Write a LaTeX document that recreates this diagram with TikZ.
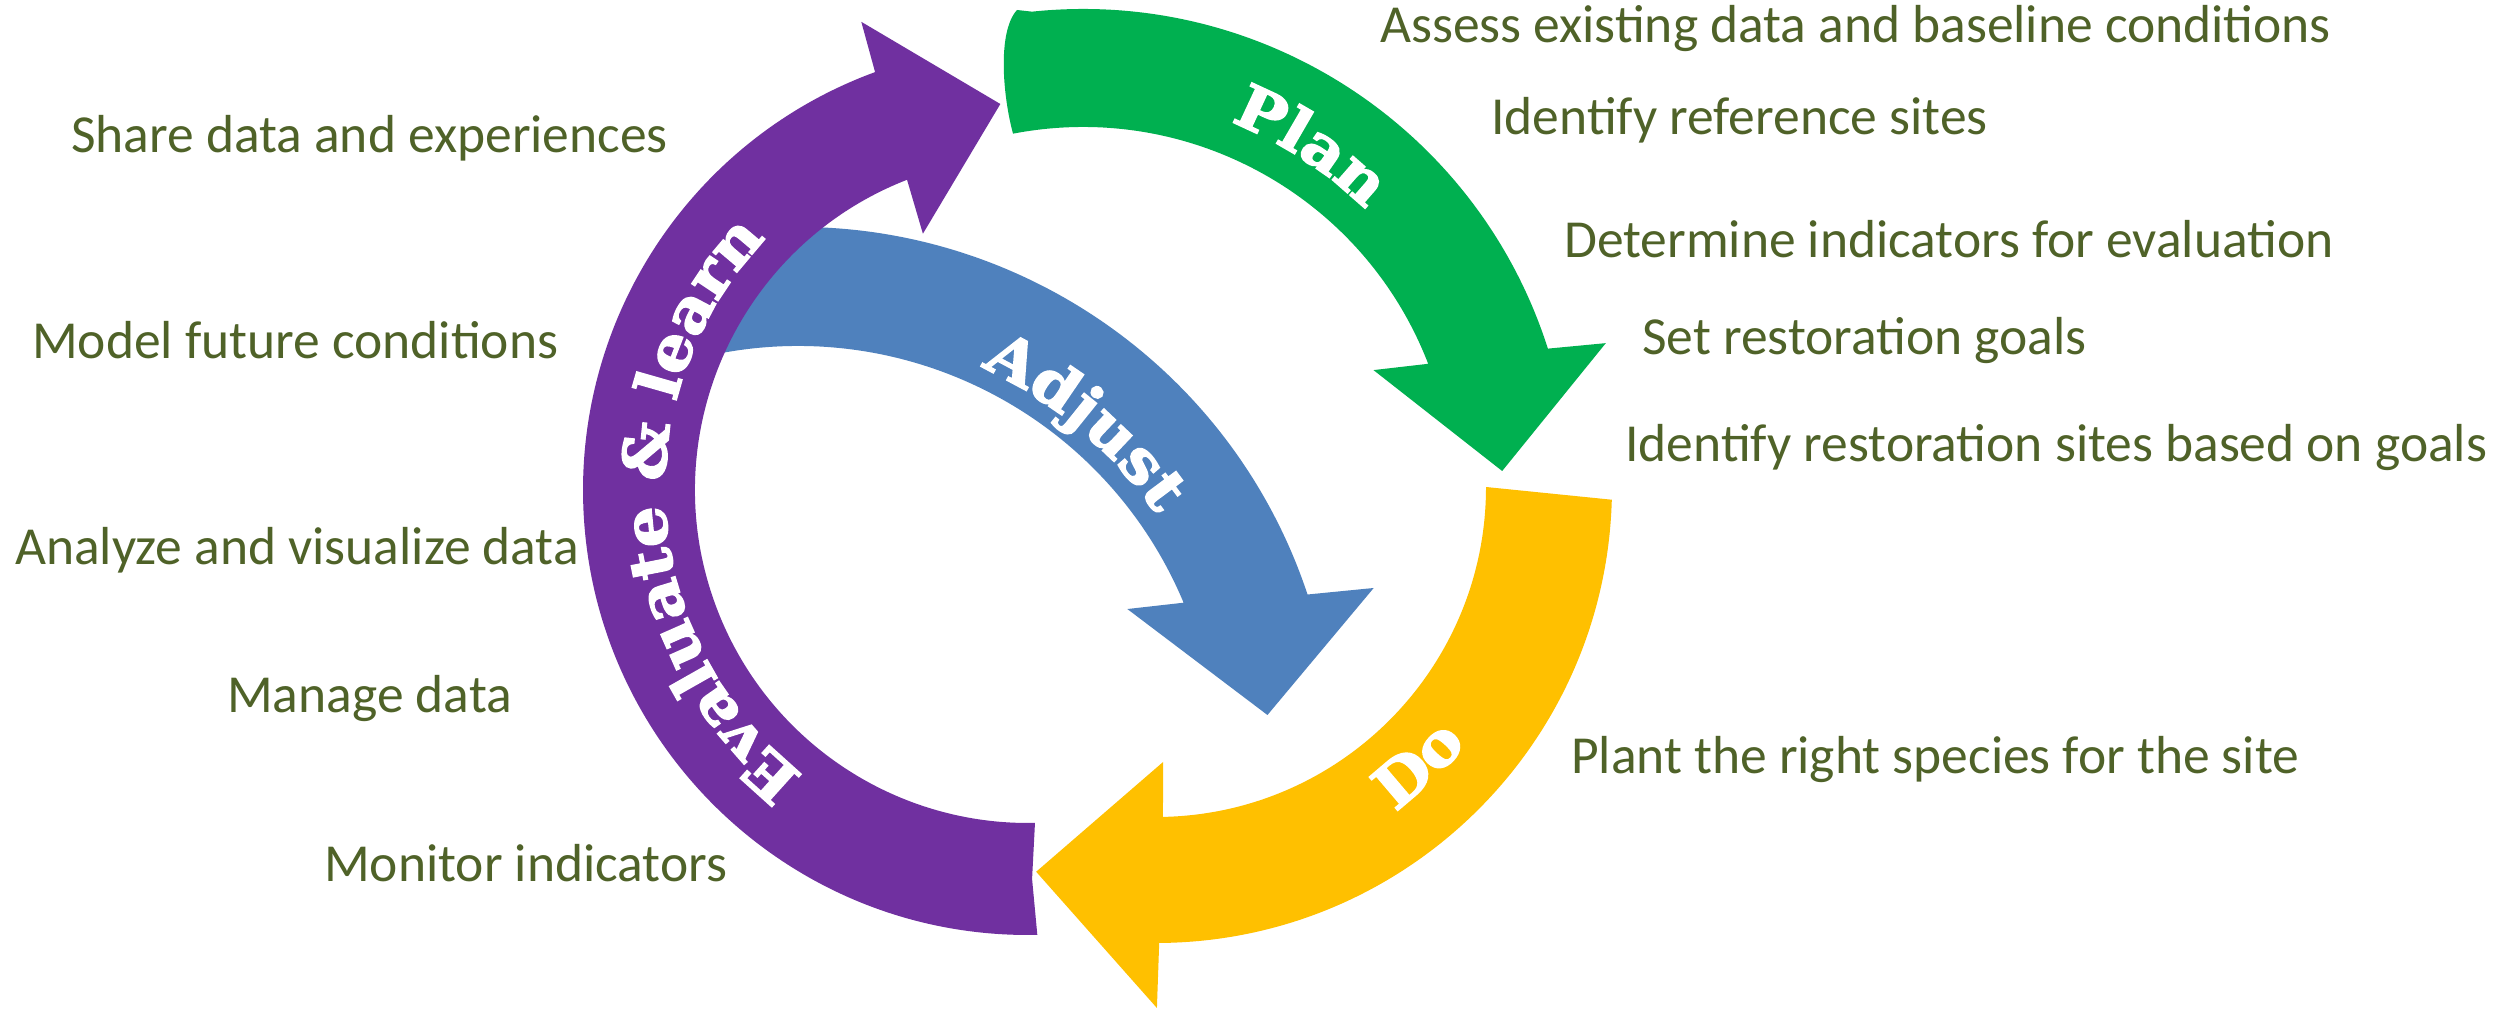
\documentclass[tikz,border=0pt]{standalone}
\usepackage{fontspec}
\setmainfont{Carlito}
\newfontfamily\lblfont{DejaVu Serif}[FakeStretch=1.08,FakeBold=2.5]
\usetikzlibrary{decorations.text}
\definecolor{cpurple}{HTML}{7030A0}
\definecolor{cgreen}{HTML}{00B050}
\definecolor{cblue}{HTML}{4F81BD}
\definecolor{cyellow}{HTML}{FFC000}
\definecolor{ctext}{HTML}{4F6228}
\begin{document}
\begin{tikzpicture}[x=1pt,y=1pt,
  item/.style={text=ctext,font=\fontsize{53.5}{60}\selectfont,inner sep=0pt,anchor=base west},
  lbl/.style={decorate,decoration={text along path,text align=center,text color=white,
     text={|\lblfont\bfseries\fontsize{60}{60}\selectfont|#1}}}
]
\useasboundingbox (0,0) rectangle (2499,1010);
\fill[white] (0,0) rectangle (2499,1010);

% Adjust (blue)
\begin{scope}[shift={(798,246)}]
  \fill[cblue] (103:537pt) arc[start angle=103,end angle=18.4,radius=537pt]
    -- (17:602pt) -- (5.96:472pt) -- (25.2:364pt) -- (22.7:418pt)
    arc[start angle=22.7,end angle=103,radius=418pt] -- cycle;
  \path[lbl=Adjust] (80:437pt) arc[start angle=80,end angle=20,radius=437pt];
\end{scope}

% Evaluate & learn (purple)
\begin{scope}[shift={(1028,520)}]
  \fill[cpurple] (271.2:445pt) arc[start angle=271.2,end angle=110.1,radius=445pt]
    -- (109.6:497pt) -- (94.1:387pt) -- (112.3:277pt) -- (111.3:333pt)
    arc[start angle=111.3,end angle=271.2,radius=333pt] -- (270.6:389pt) -- cycle;
  \path[lbl={Evaluate {\&} learn}] (236:363pt) arc[start angle=236,end angle=132,radius=363pt];
\end{scope}

% Plan (green)
\begin{scope}[shift={(1083,513)}]
  \fill[cgreen] (96:488pt) arc[start angle=96,end angle=17.7,radius=488pt]
    -- (16.4:545pt) -- (3.55:420pt) -- (23.6:317pt) -- (21.1:370pt)
    arc[start angle=21.1,end angle=100.9,radius=370pt]
    .. controls (-80,400) and (-86,465) .. (-66,487) -- cycle;
  \path[lbl=Plan] (85:403pt) arc[start angle=85,end angle=29,radius=403pt];
\end{scope}

% Do (yellow)
\begin{scope}[shift={(1156,523)}]
  \fill[cyellow] (-1.6:456pt) arc[start angle=-1.6,end angle=-89.6,radius=456pt]
    -- (-89.9:521pt) -- (-107.3:403pt) -- (-88.5:275pt) -- (-88.8:330pt)
    arc[start angle=-88.8,end angle=0,radius=330pt] -- cycle;
  \path[lbl=Do] (-76.6:403pt) arc[start angle=-76.6,end angle=-16.6,radius=403pt];
\end{scope}

% right-hand items
\node[item] (t1) at (1380,967) {Assess existing data and baseline conditions};
\node[item] (t2) at (1491,875) {Identify reference sites};
\node[item] (t3) at (1564,752) {Determine indicators for evaluation};
\node[item] (t4) at (1642,655) {Set restoration goals};
\node[item] (t5) at (1625,548) {Identify restoration sites based on goals};
\node[item] (t6) at (1571,237) {Plant the right species for the site};
% left-hand items
\node[item] (t7) at (71,857) {Share data and experiences};
\node[item] (t8) at (32,651) {Model future conditions};
\node[item] (t9) at (15,445) {Analyze and visualize data};
\node[item] (t10) at (227,298) {Manage data};
\node[item] (t11) at (324,129) {Monitor indicators};
\end{tikzpicture}
\end{document}
